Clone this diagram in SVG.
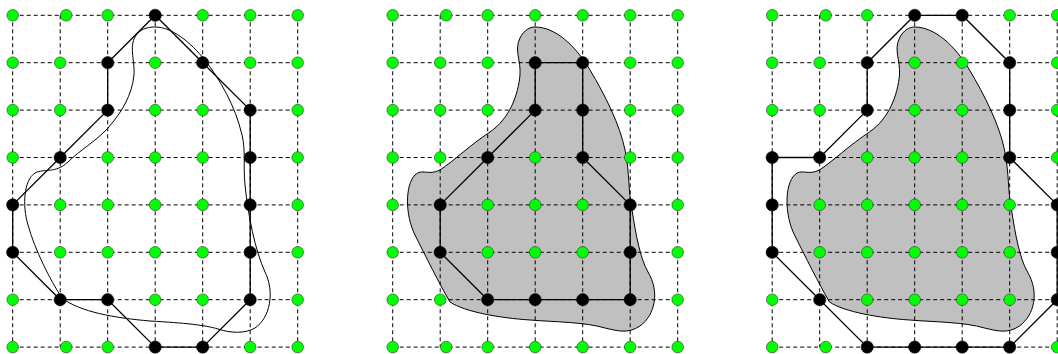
<svg xmlns="http://www.w3.org/2000/svg" xmlns:xlink="http://www.w3.org/1999/xlink" width="1058" height="354" viewBox="0 0 1058 354">
<style>
.grid{fill:none;stroke:#000;stroke-width:1;stroke-dasharray:4,3}
.poly{fill:none;stroke:#000;stroke-width:1.3;stroke-linejoin:round}
.curve{fill:none;stroke:#000;stroke-width:1}
.blob{fill:#c0c0c0;stroke:#000;stroke-width:1}
.g{fill:#00ff00;stroke:#333;stroke-width:0.6}
.b{fill:#000;stroke:#000;stroke-width:0.6}
</style>
<defs>
<circle id="gd" class="g" r="5.8" cx="0" cy="0"/>
<circle id="bd" class="b" r="6.1" cx="0" cy="0"/>
<path id="blobshape" d="M155,27 C175,27 195,45 210,70 C225,95 240,125 245,150 C250,175 248,190 252,210 C256,235 260,258 268,272 C280,292 275,315 260,326 C248,334 238,331 225,328 C205,322 175,322 150,320 C120,318 85,312 70,302 C60,285 45,255 35,235 C25,215 25,185 35,175 C42,168 48,176 60,170 C75,160 90,145 110,132 C130,118 138,95 140,75 C141,60 134,50 140,38 C144,30 150,27 155,27 Z"/>
<path id="gridlines" class="grid" d="M12.7,15.3H297.7M12.7,62.7H297.7M12.7,110.1H297.7M12.7,157.5H297.7M12.7,204.9H297.7M12.7,252.3H297.7M12.7,299.7H297.7M12.7,347.1H297.7M12.7,15.3V347.1M60.2,15.3V347.1M107.7,15.3V347.1M155.2,15.3V347.1M202.7,15.3V347.1M250.2,15.3V347.1M297.7,15.3V347.1"/>
</defs>

<!-- Panel 1 -->
<g id="panel1">
<path id="p1-curve" class="curve" d="M155,27 C172,27 190,42 205,60 C220,80 235,105 242,135 C246,152 243,165 245,185 C248,215 255,250 265,272 C275,292 270,318 255,328 C245,334 230,333 218,329 C205,325 185,323 150,321 C115,318 80,312 62,298 C50,280 35,250 28,225 C22,205 24,180 35,173 C45,168 55,174 68,162 C80,150 95,142 108,128 C122,112 132,95 134,75 C135,60 128,45 137,34 C142,28 150,27 155,27 Z"/>
<g id="p1-connectors">
<use href="#gridlines"/>
<polygon class="poly" points="155.2,15.3 202.7,62.7 250.2,110.1 250.2,299.7 202.7,347.1 155.2,347.1 107.7,299.7 60.2,299.7 12.7,252.3 12.7,204.9 60.2,157.5 107.7,110.1 107.7,62.7"/>
</g>
<g id="p1-r0c0"><use href="#gd" x="12.7" y="15.3"/></g>
<g id="p1-r0c1"><use href="#gd" x="66.2" y="15.3"/></g>
<g id="p1-r0c2"><use href="#gd" x="107.7" y="15.3"/></g>
<g id="p1-r0c3"><use href="#bd" x="155.2" y="15.3"/></g>
<g id="p1-r0c4"><use href="#gd" x="202.7" y="15.3"/></g>
<g id="p1-r0c5"><use href="#gd" x="250.2" y="15.3"/></g>
<g id="p1-r0c6"><use href="#gd" x="297.7" y="15.3"/></g>
<g id="p1-r1c0"><use href="#gd" x="12.7" y="62.7"/></g>
<g id="p1-r1c1"><use href="#gd" x="60.2" y="62.7"/></g>
<g id="p1-r1c2"><use href="#bd" x="107.7" y="62.7"/></g>
<g id="p1-r1c3"><use href="#gd" x="155.2" y="62.7"/></g>
<g id="p1-r1c4"><use href="#bd" x="202.7" y="62.7"/></g>
<g id="p1-r1c5"><use href="#gd" x="250.2" y="62.7"/></g>
<g id="p1-r1c6"><use href="#gd" x="297.7" y="62.7"/></g>
<g id="p1-r2c0"><use href="#gd" x="12.7" y="110.1"/></g>
<g id="p1-r2c1"><use href="#gd" x="60.2" y="110.1"/></g>
<g id="p1-r2c2"><use href="#bd" x="107.7" y="110.1"/></g>
<g id="p1-r2c3"><use href="#gd" x="155.2" y="110.1"/></g>
<g id="p1-r2c4"><use href="#gd" x="202.7" y="110.1"/></g>
<g id="p1-r2c5"><use href="#bd" x="250.2" y="110.1"/></g>
<g id="p1-r2c6"><use href="#gd" x="297.7" y="110.1"/></g>
<g id="p1-r3c0"><use href="#gd" x="12.7" y="157.5"/></g>
<g id="p1-r3c1"><use href="#bd" x="60.2" y="157.5"/></g>
<g id="p1-r3c2"><use href="#gd" x="107.7" y="157.5"/></g>
<g id="p1-r3c3"><use href="#gd" x="155.2" y="157.5"/></g>
<g id="p1-r3c4"><use href="#gd" x="202.7" y="157.5"/></g>
<g id="p1-r3c5"><use href="#bd" x="250.2" y="157.5"/></g>
<g id="p1-r3c6"><use href="#gd" x="297.7" y="157.5"/></g>
<g id="p1-r4c0"><use href="#bd" x="12.7" y="204.9"/></g>
<g id="p1-r4c1"><use href="#gd" x="60.2" y="204.9"/></g>
<g id="p1-r4c2"><use href="#gd" x="107.7" y="204.9"/></g>
<g id="p1-r4c3"><use href="#gd" x="155.2" y="204.9"/></g>
<g id="p1-r4c4"><use href="#gd" x="202.7" y="204.9"/></g>
<g id="p1-r4c5"><use href="#bd" x="250.2" y="204.9"/></g>
<g id="p1-r4c6"><use href="#gd" x="297.7" y="204.9"/></g>
<g id="p1-r5c0"><use href="#bd" x="12.7" y="252.3"/></g>
<g id="p1-r5c1"><use href="#gd" x="60.2" y="252.3"/></g>
<g id="p1-r5c2"><use href="#gd" x="107.7" y="252.3"/></g>
<g id="p1-r5c3"><use href="#gd" x="155.2" y="252.3"/></g>
<g id="p1-r5c4"><use href="#gd" x="202.7" y="252.3"/></g>
<g id="p1-r5c5"><use href="#bd" x="250.2" y="252.3"/></g>
<g id="p1-r5c6"><use href="#gd" x="297.7" y="252.3"/></g>
<g id="p1-r6c0"><use href="#gd" x="12.7" y="299.7"/></g>
<g id="p1-r6c1"><use href="#bd" x="60.2" y="299.7"/></g>
<g id="p1-r6c2"><use href="#bd" x="107.7" y="299.7"/></g>
<g id="p1-r6c3"><use href="#gd" x="155.2" y="299.7"/></g>
<g id="p1-r6c4"><use href="#gd" x="202.7" y="299.7"/></g>
<g id="p1-r6c5"><use href="#bd" x="250.2" y="299.7"/></g>
<g id="p1-r6c6"><use href="#gd" x="297.7" y="299.7"/></g>
<g id="p1-r7c0"><use href="#gd" x="12.7" y="347.1"/></g>
<g id="p1-r7c1"><use href="#gd" x="66.2" y="347.1"/></g>
<g id="p1-r7c2"><use href="#gd" x="107.7" y="347.1"/></g>
<g id="p1-r7c3"><use href="#bd" x="155.2" y="347.1"/></g>
<g id="p1-r7c4"><use href="#bd" x="202.7" y="347.1"/></g>
<g id="p1-r7c5"><use href="#gd" x="250.2" y="347.1"/></g>
<g id="p1-r7c6"><use href="#gd" x="297.7" y="347.1"/></g>
</g>

<!-- Panel 2 -->
<g id="panel2" transform="translate(380,0)">
<use id="p2-blob" href="#blobshape" class="blob"/>
<g id="p2-connectors">
<use href="#gridlines"/>
<polygon class="poly" points="155.2,62.7 202.7,62.7 202.7,157.5 250.2,204.9 250.2,299.7 107.7,299.7 60.2,252.3 60.2,204.9 107.7,157.5 155.2,110.1"/>
</g>
<g id="p2-r0c0"><use href="#gd" x="12.7" y="15.3"/></g>
<g id="p2-r0c1"><use href="#gd" x="66.2" y="15.3"/></g>
<g id="p2-r0c2"><use href="#gd" x="107.7" y="15.3"/></g>
<g id="p2-r0c3"><use href="#gd" x="155.2" y="15.3"/></g>
<g id="p2-r0c4"><use href="#gd" x="202.7" y="15.3"/></g>
<g id="p2-r0c5"><use href="#gd" x="250.2" y="15.3"/></g>
<g id="p2-r0c6"><use href="#gd" x="297.7" y="15.3"/></g>
<g id="p2-r1c0"><use href="#gd" x="12.7" y="62.7"/></g>
<g id="p2-r1c1"><use href="#gd" x="60.2" y="62.7"/></g>
<g id="p2-r1c2"><use href="#gd" x="107.7" y="62.7"/></g>
<g id="p2-r1c3"><use href="#bd" x="155.2" y="62.7"/></g>
<g id="p2-r1c4"><use href="#bd" x="202.7" y="62.7"/></g>
<g id="p2-r1c5"><use href="#gd" x="250.2" y="62.7"/></g>
<g id="p2-r1c6"><use href="#gd" x="297.7" y="62.7"/></g>
<g id="p2-r2c0"><use href="#gd" x="12.7" y="110.1"/></g>
<g id="p2-r2c1"><use href="#gd" x="60.2" y="110.1"/></g>
<g id="p2-r2c2"><use href="#gd" x="107.7" y="110.1"/></g>
<g id="p2-r2c3"><use href="#bd" x="155.2" y="110.1"/></g>
<g id="p2-r2c4"><use href="#bd" x="202.7" y="110.1"/></g>
<g id="p2-r2c5"><use href="#gd" x="250.2" y="110.1"/></g>
<g id="p2-r2c6"><use href="#gd" x="297.7" y="110.1"/></g>
<g id="p2-r3c0"><use href="#gd" x="12.7" y="157.5"/></g>
<g id="p2-r3c1"><use href="#gd" x="60.2" y="157.5"/></g>
<g id="p2-r3c2"><use href="#bd" x="107.7" y="157.5"/></g>
<g id="p2-r3c3"><use href="#gd" x="155.2" y="157.5"/></g>
<g id="p2-r3c4"><use href="#bd" x="202.7" y="157.5"/></g>
<g id="p2-r3c5"><use href="#gd" x="250.2" y="157.5"/></g>
<g id="p2-r3c6"><use href="#gd" x="297.7" y="157.5"/></g>
<g id="p2-r4c0"><use href="#gd" x="12.7" y="204.9"/></g>
<g id="p2-r4c1"><use href="#bd" x="60.2" y="204.9"/></g>
<g id="p2-r4c2"><use href="#gd" x="107.7" y="204.9"/></g>
<g id="p2-r4c3"><use href="#gd" x="155.2" y="204.9"/></g>
<g id="p2-r4c4"><use href="#gd" x="202.7" y="204.9"/></g>
<g id="p2-r4c5"><use href="#bd" x="250.2" y="204.9"/></g>
<g id="p2-r4c6"><use href="#gd" x="297.7" y="204.9"/></g>
<g id="p2-r5c0"><use href="#gd" x="12.7" y="252.3"/></g>
<g id="p2-r5c1"><use href="#bd" x="60.2" y="252.3"/></g>
<g id="p2-r5c2"><use href="#gd" x="107.7" y="252.3"/></g>
<g id="p2-r5c3"><use href="#gd" x="155.2" y="252.3"/></g>
<g id="p2-r5c4"><use href="#gd" x="202.7" y="252.3"/></g>
<g id="p2-r5c5"><use href="#bd" x="250.2" y="252.3"/></g>
<g id="p2-r5c6"><use href="#gd" x="297.7" y="252.3"/></g>
<g id="p2-r6c0"><use href="#gd" x="12.7" y="299.7"/></g>
<g id="p2-r6c1"><use href="#gd" x="60.2" y="299.7"/></g>
<g id="p2-r6c2"><use href="#bd" x="107.7" y="299.7"/></g>
<g id="p2-r6c3"><use href="#bd" x="155.2" y="299.7"/></g>
<g id="p2-r6c4"><use href="#bd" x="202.7" y="299.7"/></g>
<g id="p2-r6c5"><use href="#bd" x="250.2" y="299.7"/></g>
<g id="p2-r6c6"><use href="#gd" x="297.7" y="299.7"/></g>
<g id="p2-r7c0"><use href="#gd" x="12.7" y="347.1"/></g>
<g id="p2-r7c1"><use href="#gd" x="66.2" y="347.1"/></g>
<g id="p2-r7c2"><use href="#gd" x="107.7" y="347.1"/></g>
<g id="p2-r7c3"><use href="#gd" x="155.2" y="347.1"/></g>
<g id="p2-r7c4"><use href="#gd" x="202.7" y="347.1"/></g>
<g id="p2-r7c5"><use href="#gd" x="250.2" y="347.1"/></g>
<g id="p2-r7c6"><use href="#gd" x="297.7" y="347.1"/></g>
</g>

<!-- Panel 3 -->
<g id="panel3" transform="translate(759.5,0)">
<use id="p3-blob" href="#blobshape" class="blob"/>
<g id="p3-connectors">
<use href="#gridlines"/>
<polygon class="poly" points="155.2,15.3 202.7,15.3 250.2,62.7 250.2,157.5 297.7,204.9 297.7,299.7 250.2,347.1 107.7,347.1 60.2,299.7 12.7,252.3 12.7,157.5 60.2,157.5 107.7,110.1 107.7,62.7"/>
</g>
<g id="p3-r0c0"><use href="#gd" x="12.7" y="15.3"/></g>
<g id="p3-r0c1"><use href="#gd" x="66.2" y="15.3"/></g>
<g id="p3-r0c2"><use href="#gd" x="107.7" y="15.3"/></g>
<g id="p3-r0c3"><use href="#bd" x="155.2" y="15.3"/></g>
<g id="p3-r0c4"><use href="#bd" x="202.7" y="15.3"/></g>
<g id="p3-r0c5"><use href="#gd" x="250.2" y="15.3"/></g>
<g id="p3-r0c6"><use href="#gd" x="297.7" y="15.3"/></g>
<g id="p3-r1c0"><use href="#gd" x="12.7" y="62.7"/></g>
<g id="p3-r1c1"><use href="#gd" x="60.2" y="62.7"/></g>
<g id="p3-r1c2"><use href="#bd" x="107.7" y="62.7"/></g>
<g id="p3-r1c3"><use href="#gd" x="155.2" y="62.7"/></g>
<g id="p3-r1c4"><use href="#gd" x="202.7" y="62.7"/></g>
<g id="p3-r1c5"><use href="#bd" x="250.2" y="62.7"/></g>
<g id="p3-r1c6"><use href="#gd" x="297.7" y="62.7"/></g>
<g id="p3-r2c0"><use href="#gd" x="12.7" y="110.1"/></g>
<g id="p3-r2c1"><use href="#gd" x="60.2" y="110.1"/></g>
<g id="p3-r2c2"><use href="#bd" x="107.7" y="110.1"/></g>
<g id="p3-r2c3"><use href="#gd" x="155.2" y="110.1"/></g>
<g id="p3-r2c4"><use href="#gd" x="202.7" y="110.1"/></g>
<g id="p3-r2c5"><use href="#bd" x="250.2" y="110.1"/></g>
<g id="p3-r2c6"><use href="#gd" x="297.7" y="110.1"/></g>
<g id="p3-r3c0"><use href="#bd" x="12.7" y="157.5"/></g>
<g id="p3-r3c1"><use href="#bd" x="60.2" y="157.5"/></g>
<g id="p3-r3c2"><use href="#gd" x="107.7" y="157.5"/></g>
<g id="p3-r3c3"><use href="#gd" x="155.2" y="157.5"/></g>
<g id="p3-r3c4"><use href="#gd" x="202.7" y="157.5"/></g>
<g id="p3-r3c5"><use href="#bd" x="250.2" y="157.5"/></g>
<g id="p3-r3c6"><use href="#gd" x="297.7" y="157.5"/></g>
<g id="p3-r4c0"><use href="#bd" x="12.7" y="204.9"/></g>
<g id="p3-r4c1"><use href="#gd" x="60.2" y="204.9"/></g>
<g id="p3-r4c2"><use href="#gd" x="107.7" y="204.9"/></g>
<g id="p3-r4c3"><use href="#gd" x="155.2" y="204.9"/></g>
<g id="p3-r4c4"><use href="#gd" x="202.7" y="204.9"/></g>
<g id="p3-r4c5"><use href="#gd" x="250.2" y="204.9"/></g>
<g id="p3-r4c6"><use href="#bd" x="297.7" y="204.9"/></g>
<g id="p3-r5c0"><use href="#bd" x="12.7" y="252.3"/></g>
<g id="p3-r5c1"><use href="#gd" x="60.2" y="252.3"/></g>
<g id="p3-r5c2"><use href="#gd" x="107.7" y="252.3"/></g>
<g id="p3-r5c3"><use href="#gd" x="155.2" y="252.3"/></g>
<g id="p3-r5c4"><use href="#gd" x="202.7" y="252.3"/></g>
<g id="p3-r5c5"><use href="#gd" x="250.2" y="252.3"/></g>
<g id="p3-r5c6"><use href="#bd" x="297.7" y="252.3"/></g>
<g id="p3-r6c0"><use href="#gd" x="12.7" y="299.7"/></g>
<g id="p3-r6c1"><use href="#bd" x="60.2" y="299.7"/></g>
<g id="p3-r6c2"><use href="#gd" x="107.7" y="299.7"/></g>
<g id="p3-r6c3"><use href="#gd" x="155.2" y="299.7"/></g>
<g id="p3-r6c4"><use href="#gd" x="202.7" y="299.7"/></g>
<g id="p3-r6c5"><use href="#gd" x="250.2" y="299.7"/></g>
<g id="p3-r6c6"><use href="#bd" x="297.7" y="299.7"/></g>
<g id="p3-r7c0"><use href="#gd" x="12.7" y="347.1"/></g>
<g id="p3-r7c1"><use href="#gd" x="66.2" y="347.1"/></g>
<g id="p3-r7c2"><use href="#bd" x="107.7" y="347.1"/></g>
<g id="p3-r7c3"><use href="#bd" x="155.2" y="347.1"/></g>
<g id="p3-r7c4"><use href="#bd" x="202.7" y="347.1"/></g>
<g id="p3-r7c5"><use href="#bd" x="250.2" y="347.1"/></g>
<g id="p3-r7c6"><use href="#gd" x="297.7" y="347.1"/></g>
</g>
</svg>
